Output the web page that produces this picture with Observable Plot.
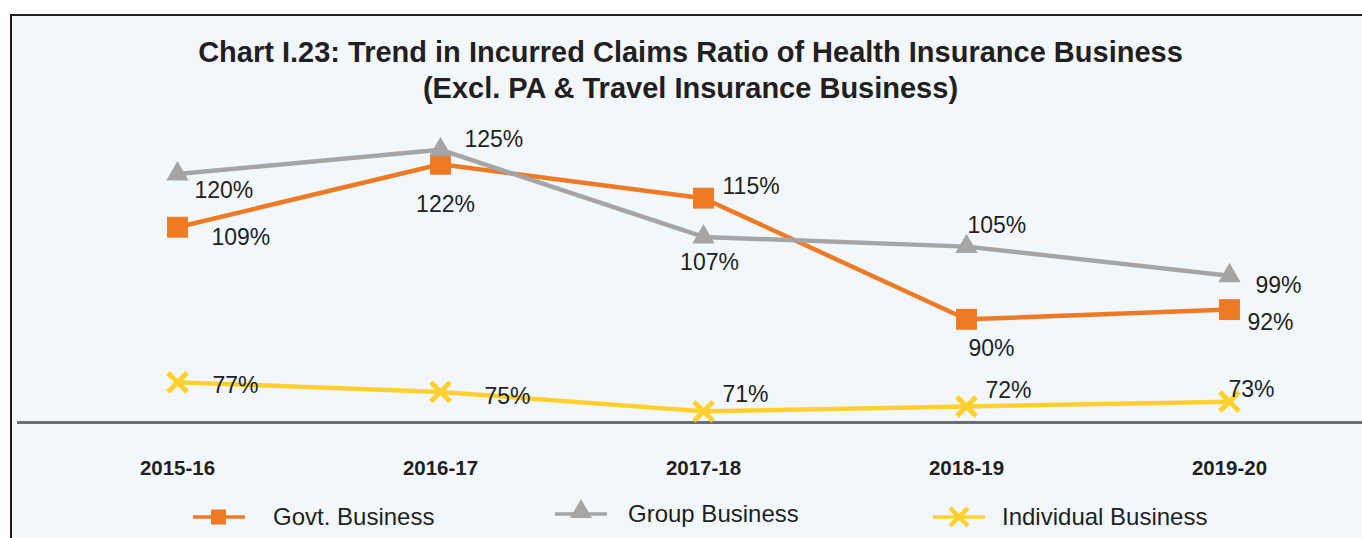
<!DOCTYPE html>
<html>
<head>
<meta charset="utf-8">
<script src="https://cdn.jsdelivr.net/npm/d3@7"></script>
<script src="https://cdn.jsdelivr.net/npm/@observablehq/plot@0.6"></script>
<style>
  html, body { margin: 0; padding: 0; background: #ffffff; }
  #page { position: relative; width: 1362px; height: 538px; overflow: hidden; background: #ffffff; font-family: "Liberation Sans", Arial, sans-serif; color: #231f20; }
  #box { position: absolute; left: 10px; top: 14px; right: 0; bottom: 0; border-left: 2px solid #231f20; border-top: 2px solid #231f20; background: #f2f7fb; }
  .title { position: absolute; left: 0; width: 1381px; text-align: center; font-weight: bold; font-size: 29px; line-height: 34px; white-space: nowrap; }
  #chart { position: absolute; left: 0; top: 0; }
  .leg { position: absolute; display: flex; align-items: center; font-size: 24px; white-space: nowrap; }
  .leg svg { display: block; }
</style>
</head>
<body>
<div id="page">
  <div id="box"></div>
  <div class="title" id="t1" style="top:35px">Chart I.23: Trend in Incurred Claims Ratio of Health Insurance Business</div>
  <div class="title" id="t2" style="top:71px">(Excl. PA &amp; Travel Insurance Business)</div>
  <div id="chart"></div>
  <div id="legend"></div>
</div>
<script>
// ---- data ----
const years = ["2015-16", "2016-17", "2017-18", "2018-19", "2019-20"];
const seriesNames = ["Govt. Business", "Group Business", "Individual Business"];
const govt = [109, 122, 115, 90, 92];
const group = [120, 125, 107, 105, 99];
const individual = [77, 75, 71, 72, 73];

// ---- styling (not data) ----
const colors = {"Govt. Business": "#ee7b24", "Group Business": "#a5a5a5", "Individual Business": "#ffd030"};
const symbols = {"Govt. Business": "square", "Group Business": "triangle", "Individual Business": "times"};
// label offsets per series per point: [dx, dy, anchor]
const labelOffsets = {
  "Govt. Business": [[34, 10, "start"], [5, 40, "middle"], [19, -12, "start"], [2, 29, "start"], [18, 13, "start"]],
  "Group Business": [[17, 17, "start"], [24, -10, "start"], [6, 26, "middle"], [1, -21, "start"], [26, 10, "start"]],
  "Individual Business": [[35, 3, "start"], [44, 5, "start"], [19, -17, "start"], [19, -16, "start"], [-1, -12, "start"]]
};

const valuesBySeries = {"Govt. Business": govt, "Group Business": group, "Individual Business": individual};
const rows = [];
for (const s of seriesNames) {
  valuesBySeries[s].forEach((v, i) => rows.push({series: s, year: years[i], value: v, idx: i}));
}

const marks = [
  Plot.frame({anchor: "bottom", stroke: "#6d6e71", strokeWidth: 3})
];
for (const s of seriesNames) {
  const d = rows.filter(r => r.series === s);
  marks.push(Plot.line(d, {x: "year", y: "value", stroke: colors[s], strokeWidth: 4.5}));
}
for (const s of seriesNames) {
  const d = rows.filter(r => r.series === s);
  if (symbols[s] === "times") {
    marks.push(Plot.dot(d, {x: "year", y: "value", symbol: "times", r: 8.8, stroke: colors[s], strokeWidth: 5, fill: "none"}));
  } else if (symbols[s] === "square") {
    marks.push(Plot.dot(d, {x: "year", y: "value", symbol: "square", r: 11.8, fill: colors[s], stroke: "none"}));
  } else {
    marks.push(Plot.dot(d, {x: "year", y: "value", symbol: "triangle", r: 8.3, fill: colors[s], stroke: "none"}));
  }
}
for (const s of seriesNames) {
  const d = rows.filter(r => r.series === s);
  d.forEach((r, i) => {
    const [dx, dy, anchor] = labelOffsets[s][i];
    marks.push(Plot.text([r], {x: "year", y: "value", text: r => r.value + "%", dx, dy, textAnchor: anchor, lineAnchor: "middle", fontSize: 23, fill: "#231f20"}));
  });
}
marks.push(Plot.axisX({tickSize: 0, tickPadding: 38, fontSize: 20.5, fontWeight: "bold", fill: "#231f20", label: null}));

const plot = Plot.plot({
  width: 1362,
  height: 538,
  marginTop: 125,
  marginBottom: 116,
  marginLeft: 18,
  marginRight: 0,
  style: {background: "transparent", fontFamily: "'Liberation Sans', Arial, sans-serif", color: "#231f20"},
  x: {type: "point", domain: years, range: [175, 1230], padding: 0, label: null},
  y: {domain: [68.7, 130], axis: null},
  marks
});
document.getElementById("chart").appendChild(plot);

// ---- legend ----
const legendPos = [
  {name: "Govt. Business", left: 193, top: 503, gap: 28},
  {name: "Group Business", left: 555, top: 500, gap: 21},
  {name: "Individual Business", left: 933, top: 503, gap: 17}
];
const legend = document.getElementById("legend");
for (const p of legendPos) {
  const c = colors[p.name];
  const div = document.createElement("div");
  div.className = "leg";
  div.style.left = p.left + "px";
  div.style.top = p.top + "px";
  let marker;
  if (symbols[p.name] === "square") marker = `<rect x="18" y="4.5" width="15" height="15" fill="${c}"/>`;
  else if (symbols[p.name] === "triangle") marker = `<path d="M26,-3 L37,16 L15,16 Z" fill="${c}"/>`;
  else marker = `<path d="M17,3 L35,21 M35,3 L17,21" stroke="${c}" stroke-width="4.5" fill="none"/>`;
  div.innerHTML = `<svg width="52" height="24" style="overflow:visible"><line x1="0" x2="52" y1="12" y2="12" stroke="${c}" stroke-width="3.5"/>${marker}</svg><span style="margin-left:${p.gap}px">${p.name}</span>`;
  legend.appendChild(div);
}
</script>
</body>
</html>
